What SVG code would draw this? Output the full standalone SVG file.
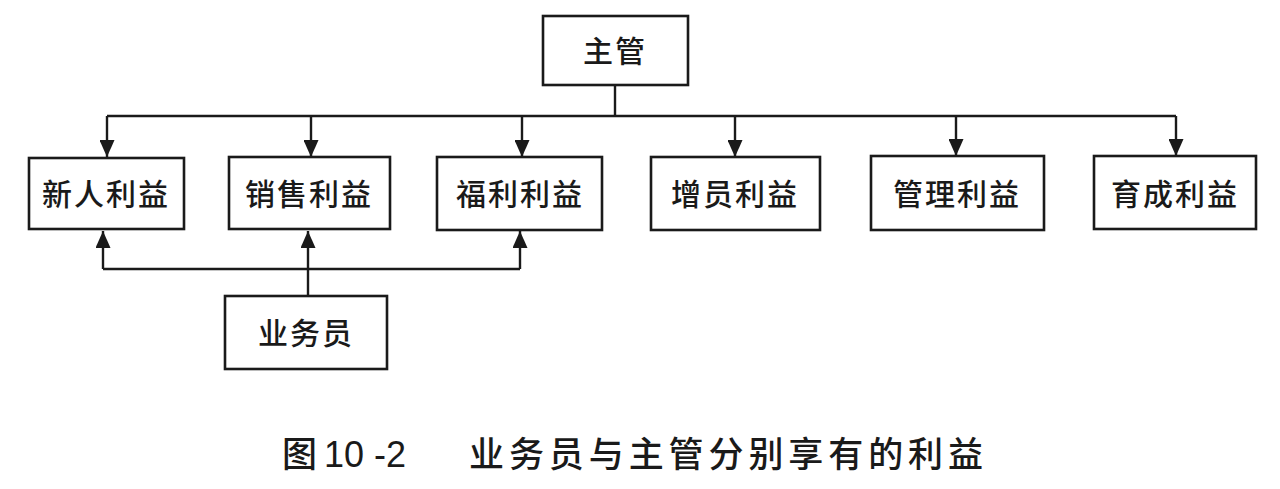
<svg xmlns="http://www.w3.org/2000/svg" width="1280" height="489" viewBox="0 0 1280 489">
<style>
.box{fill:#fff;stroke:#1a1a1a;stroke-width:2.6}
.lbl{font-family:"Noto Sans CJK SC","Noto Sans",sans-serif;font-size:30px;font-weight:500;fill:#1a1a1a;text-anchor:middle;letter-spacing:2px}
.conn{fill:none;stroke:#1a1a1a;stroke-width:2.4}
.cap{font-family:"Noto Sans CJK SC","Liberation Sans",sans-serif;font-size:35px;font-weight:500;fill:#1a1a1a}
.num{font-family:"Liberation Sans",Arial,sans-serif;font-size:36px;fill:#1a1a1a}
</style>
<defs>
<marker id="arr" viewBox="0 0 17 15" refX="17" refY="7.5" markerWidth="17" markerHeight="15" markerUnits="userSpaceOnUse" orient="auto">
<path d="M0,0 L17,7.5 L0,15 z" fill="#1a1a1a"/>
</marker>
</defs>
<rect width="1280" height="489" fill="#fff"/>
<g id="connectors" class="conn">
<path d="M615,85 V116"/>
<path d="M107,116 H1176"/>
<path d="M107,116 V157" marker-end="url(#arr)"/>
<path d="M311,116 V157" marker-end="url(#arr)"/>
<path d="M522,116 V157" marker-end="url(#arr)"/>
<path d="M735,116 V157" marker-end="url(#arr)"/>
<path d="M956,116 V156" marker-end="url(#arr)"/>
<path d="M1176,116 V156" marker-end="url(#arr)"/>
<path d="M308,296 V231" marker-end="url(#arr)"/>
<path d="M103,269 H520"/>
<path d="M103,269 V231" marker-end="url(#arr)"/>
<path d="M520,269 V231" marker-end="url(#arr)"/>
</g>
<g id="zhuguan"><rect class="box" x="543" y="16" width="145" height="69"/><text class="lbl" x="615" y="62">主管</text></g>
<g id="xinren"><rect class="box" x="29" y="158" width="155" height="71"/><text class="lbl" x="106" y="205">新人利益</text></g>
<g id="xiaoshou"><rect class="box" x="229" y="157" width="161" height="72"/><text class="lbl" x="309" y="205">销售利益</text></g>
<g id="fuli"><rect class="box" x="437" y="157" width="165" height="73"/><text class="lbl" x="520" y="205">福利利益</text></g>
<g id="zengyuan"><rect class="box" x="651" y="157" width="169" height="73"/><text class="lbl" x="735" y="205">增员利益</text></g>
<g id="guanli"><rect class="box" x="871" y="156" width="173" height="74"/><text class="lbl" x="957" y="205">管理利益</text></g>
<g id="yucheng"><rect class="box" x="1094" y="156" width="162" height="73"/><text class="lbl" x="1175" y="205">育成利益</text></g>
<g id="yewuyuan"><rect class="box" x="225" y="296" width="162" height="73"/><text class="lbl" x="306" y="344">业务员</text></g>
<g id="caption">
<text class="cap" x="282" y="467">图</text>
<text class="num" y="467"><tspan x="324">10</tspan> <tspan x="374">-2</tspan></text>
<text class="cap" x="469" y="467" textLength="514" lengthAdjust="spacing">业务员与主管分别享有的利益</text>
</g>
</svg>
